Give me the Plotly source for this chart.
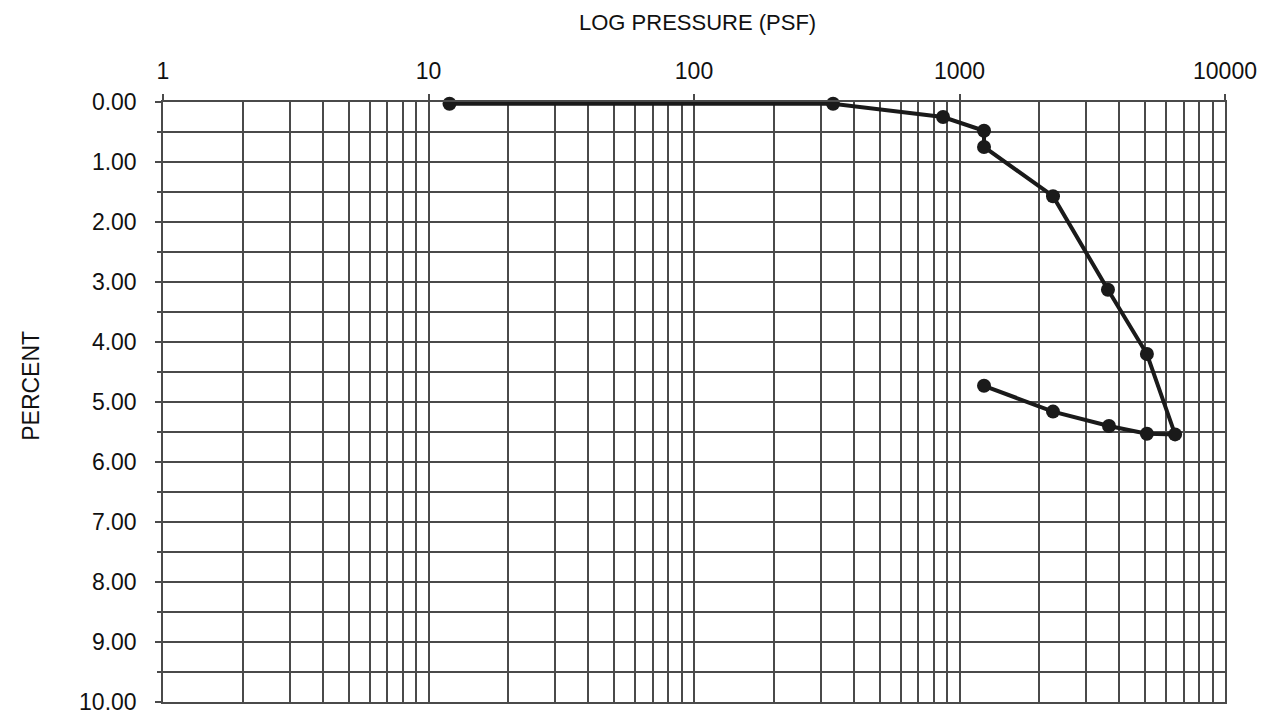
import plotly.graph_objects as go

# Data
pressure_psf = [12, 334, 867, 1237, 1237, 2250, 3624, 5080, 6486, 5080, 3656, 2250, 1237]
percent = [0.03, 0.03, 0.25, 0.48, 0.75, 1.57, 3.13, 4.20, 5.54, 5.53, 5.40, 5.16, 4.73]

x_major = [1, 10, 100, 1000, 10000]
x_major_text = ["1", "10", "100", "1000", "10000"]
x_minor = [m * 10 ** k for k in range(4) for m in range(2, 10)]
y_major = [0, 1, 2, 3, 4, 5, 6, 7, 8, 9, 10]
y_minor = [0.5 + i for i in range(10)]

grid = "#4a4a4a"
font = "Liberation Sans, Arial, sans-serif"

fig = go.Figure()
fig.add_trace(go.Scatter(
    x=pressure_psf, y=percent, mode="lines+markers",
    line=dict(color="#1a1a1a", width=4),
    marker=dict(color="#1a1a1a", size=14),
    showlegend=False, cliponaxis=False,
))

fig.update_layout(
    width=1262, height=708,
    margin=dict(l=155, r=45, t=94, b=14, autoexpand=False),
    paper_bgcolor="white", plot_bgcolor="white",
    font=dict(family=font, color="#111", size=22),
    xaxis=dict(
        type="log", side="top", range=[0, 4], automargin=False,
        tickvals=x_major, ticktext=x_major_text,
        ticks="outside", ticklen=6, tickcolor=grid, tickwidth=1.5,
        ticklabelstandoff=6,
        showgrid=True, gridcolor=grid, gridwidth=1.5,
        showline=True, linecolor=grid, linewidth=1.5, mirror=True,
        zeroline=False,
        minor=dict(tickvals=x_minor, showgrid=True, gridcolor=grid, gridwidth=1.5, ticks=""),
        tickfont=dict(size=23),
    ),
    yaxis=dict(
        range=[10, 0], tickvals=y_major, tickformat=".2f", automargin=False,
        ticks="outside", ticklen=6, tickcolor=grid, tickwidth=1.5,
        ticklabelstandoff=14, ticklabeloverflow="allow",
        showgrid=True, gridcolor=grid, gridwidth=1.5,
        showline=True, linecolor=grid, linewidth=1.5, mirror=True,
        zeroline=False,
        minor=dict(tickvals=y_minor, showgrid=True, gridcolor=grid, gridwidth=1.5,
                   ticks="outside", ticklen=4, tickcolor=grid, tickwidth=1.5),
        tickfont=dict(size=23),
    ),
    annotations=[
        dict(text="LOG PRESSURE (PSF)", xref="paper", yref="paper",
             x=0.503, y=1.133, xanchor="center", yanchor="middle",
             showarrow=False, font=dict(size=22)),
        dict(text="PERCENT", xref="paper", yref="paper",
             x=-0.1243, y=0.527, xanchor="center", yanchor="middle",
             textangle=-90, showarrow=False, font=dict(size=23)),
    ],
)

fig.write_html("out.html")
